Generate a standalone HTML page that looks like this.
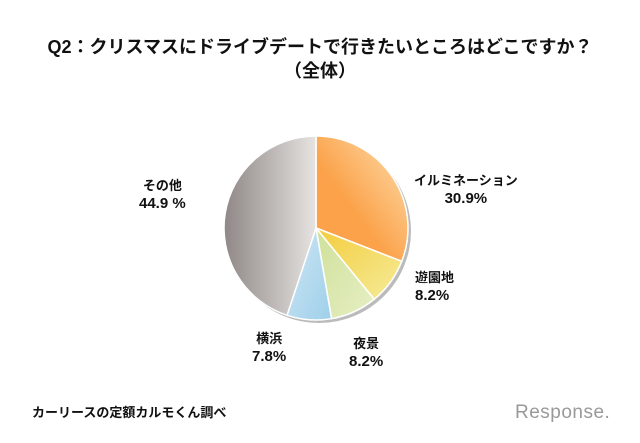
<!DOCTYPE html>
<html><head><meta charset="utf-8">
<style>
body{margin:0;background:#fff;width:640px;height:443px;overflow:hidden;font-family:"Liberation Sans","Noto Sans CJK JP",sans-serif;}
.t{position:absolute;font-weight:bold;color:#111;text-align:center;}
.v{font-size:15px}
</style></head>
<body>
<div style="position:relative;width:640px;height:443px;">
<div class="t" style="left:0;width:640px;top:35px;font-size:18px;line-height:24px;">Q2：クリスマスにドライブデートで行きたいところはどこですか？<br>（全体）</div>
<svg id="pie" width="640" height="443" style="position:absolute;left:0;top:0">
<defs>
<linearGradient id="g0" x1="1" y1="0" x2="0" y2="1"><stop offset="0" stop-color="#fde0b0"/><stop offset="0.6" stop-color="#fba24a"/></linearGradient>
<linearGradient id="g1" x1="1" y1="1" x2="0" y2="0"><stop offset="0" stop-color="#f5ec9a"/><stop offset="1" stop-color="#f4cc3c"/></linearGradient>
<linearGradient id="g2" x1="0" y1="0" x2="1" y2="1"><stop offset="0" stop-color="#cfe09a"/><stop offset="1" stop-color="#e6efc4"/></linearGradient>
<linearGradient id="g3" x1="0" y1="0" x2="1" y2="1"><stop offset="0" stop-color="#cfe6f4"/><stop offset="1" stop-color="#9ed0ea"/></linearGradient>
<linearGradient id="g4" x1="0" y1="0" x2="1" y2="0"><stop offset="0" stop-color="#8f8886"/><stop offset="1" stop-color="#e6e3e2"/></linearGradient>
</defs>
</svg>
<div class="t" style="left:414px;top:172px;font-size:13px;line-height:18px;">イルミネーション<br><span class="v">30.9%</span></div>
<div class="t" style="left:415px;top:269px;font-size:13px;line-height:18px;text-align:left;">遊園地<br><span class="v">8.2%</span></div>
<div class="t" style="left:349px;top:335px;font-size:13px;line-height:18px;">夜景<br><span class="v">8.2%</span></div>
<div class="t" style="left:252px;top:330px;font-size:13px;line-height:18px;">横浜<br><span class="v">7.8%</span></div>
<div class="t" style="left:139px;top:177px;font-size:13px;line-height:18px;">その他<br><span class="v">44.9 %</span></div>
<div class="t" style="left:32px;top:402px;font-size:13px;">カーリースの定額カルモくん調べ</div>
<div style="position:absolute;left:515px;top:402px;font-size:19px;color:#999;font-family:'Liberation Sans',sans-serif;letter-spacing:0.5px;">Response.</div>
</div>
<script>
const categories=["イルミネーション","遊園地","夜景","横浜","その他"];
const values=[30.9,8.2,8.2,7.8,44.9];
const svg=document.getElementById('pie');


const cx=316,cy=228,r=92,NS="http://www.w3.org/2000/svg";
const total=values.reduce((a,b)=>a+b,0);
const sh=document.createElementNS(NS,'circle');
sh.setAttribute('cx',cx+3);sh.setAttribute('cy',cy+3);sh.setAttribute('r',r);sh.setAttribute('fill','#bbb');


svg.appendChild(sh);
let a=0;
values.forEach((v,i)=>{
  const a0=a/total*2*Math.PI,a1=(a+v)/total*2*Math.PI;a+=v;
  const x0=cx+r*Math.sin(a0),y0=cy-r*Math.cos(a0),x1=cx+r*Math.sin(a1),y1=cy-r*Math.cos(a1);
  const p=document.createElementNS(NS,'path');
  p.setAttribute('d',`M${cx},${cy}L${x0},${y0}A${r},${r} 0 ${a1-a0>Math.PI?1:0} 1 ${x1},${y1}Z`);
  p.setAttribute('fill',`url(#g${i})`);p.setAttribute('stroke','#fff');p.setAttribute('stroke-width','1.5');
  
  
  svg.appendChild(p);
});
</script>
</body></html>
